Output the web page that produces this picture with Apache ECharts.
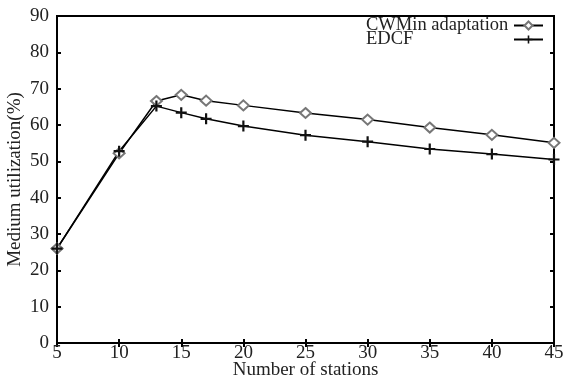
<!DOCTYPE html>
<html>
<head>
<meta charset="utf-8">
<script src="https://cdn.jsdelivr.net/npm/echarts@6/dist/echarts.min.js"></script>
<style>
html,body{margin:0;padding:0;background:#fff;}
#chart-panel{width:565px;height:383px;}
</style>
</head>
<body>
<div id="chart-panel"></div>
<script>
// 数据
var stations = [5, 10, 13, 15, 17, 20, 25, 30, 35, 40, 45];
var cwminValues = [26, 52.2, 66.6, 68.3, 66.7, 65.4, 63.3, 61.5, 59.3, 57.3, 55.1];
var edcfValues = [26, 52.8, 65.2, 63.4, 61.7, 59.7, 57.2, 55.4, 53.4, 52.0, 50.5];
var xTicks = [5, 10, 15, 20, 25, 30, 35, 40, 45];
var yTicks = [0, 10, 20, 30, 40, 50, 60, 70, 80, 90];

function pairs(xs, ys) {
    return xs.map(function (x, i) { return [x, ys[i]]; });
}

var plusPath = 'path://M4,0 L6,0 L6,4 L10,4 L10,6 L6,6 L6,10 L4,10 L4,6 L0,6 L0,4 L4,4 Z';
var font = '"Liberation Serif", "DejaVu Serif", serif';

var myChart = echarts.init(document.getElementById('chart-panel'), null, {renderer: 'canvas'});
var axisLine = {show: true, lineStyle: {color: '#000', width: 2}};
var tick = {show: true, inside: true, length: 4, lineStyle: {color: '#000', width: 2}};

// 图例文字左对齐，图标在右
function legendFor(name, top) {
    return {
        right: 21,
        top: top,
        padding: 0,
        itemWidth: 29,
        itemHeight: 10,
        itemGap: 3,
        align: 'right',
        formatter: '{t|{name}}',
        textStyle: {
            rich: {t: {fontFamily: font, fontSize: 18.5, color: '#222', width: 143, align: 'left'}}
        },
        data: [name]
    };
}

var option = {
    animation: false,
    backgroundColor: '#fff',
    textStyle: {fontFamily: font},
    grid: {
        left: 57, right: 11, top: 16, bottom: 40,
        outerBoundsMode: 'none',
        containLabel: false,
        show: true, borderColor: '#000', borderWidth: 2
    },
    legend: [legendFor('CWMin adaptation', 16), legendFor('EDCF', 30)],
    xAxis: [{
        type: 'value',
        min: 5, max: 45, interval: 5,
        name: 'Number of stations',
        nameLocation: 'middle',
        nameGap: 18,
        nameMoveOverlap: false,
        nameTextStyle: {fontFamily: font, fontSize: 19, color: '#222'},
        axisLine: axisLine,
        axisTick: tick,
        splitLine: {show: false},
        axisLabel: {fontFamily: font, fontSize: 19, color: '#222', margin: 1,
            formatter: function (v) { return xTicks.indexOf(v) >= 0 ? String(v) : ''; }}
    }, {
        type: 'value', position: 'top',
        min: 5, max: 45, interval: 5,
        axisLine: axisLine, axisTick: tick,
        axisLabel: {show: false}, splitLine: {show: false}
    }],
    yAxis: [{
        type: 'value',
        min: 0, max: 90, interval: 10,
        name: 'Medium utilization(%)',
        nameLocation: 'middle',
        nameGap: 32,
        nameMoveOverlap: false,
        nameTextStyle: {fontFamily: font, fontSize: 19, color: '#222'},
        axisLine: axisLine,
        axisTick: tick,
        splitLine: {show: false},
        axisLabel: {fontFamily: font, fontSize: 19, color: '#222', margin: 8,
            formatter: function (v) { return yTicks.indexOf(v) >= 0 ? String(v) : ''; }}
    }, {
        type: 'value', position: 'right',
        min: 0, max: 90, interval: 10,
        axisLine: axisLine, axisTick: tick,
        axisLabel: {show: false}, splitLine: {show: false}
    }],
    series: [
        {
            name: 'CWMin adaptation',
            type: 'line',
            data: pairs(stations, cwminValues),
            symbol: 'emptyDiamond',
            symbolSize: [11, 10],
            itemStyle: {color: '#777', borderWidth: 1},
            lineStyle: {color: '#000', width: 1.5}
        },
        {
            name: 'EDCF',
            type: 'line',
            data: pairs(stations, edcfValues),
            symbol: plusPath,
            symbolSize: 11,
            itemStyle: {color: '#111'},
            lineStyle: {color: '#000', width: 1.5}
        }
    ]
};
myChart.setOption(option);
</script>
</body>
</html>
